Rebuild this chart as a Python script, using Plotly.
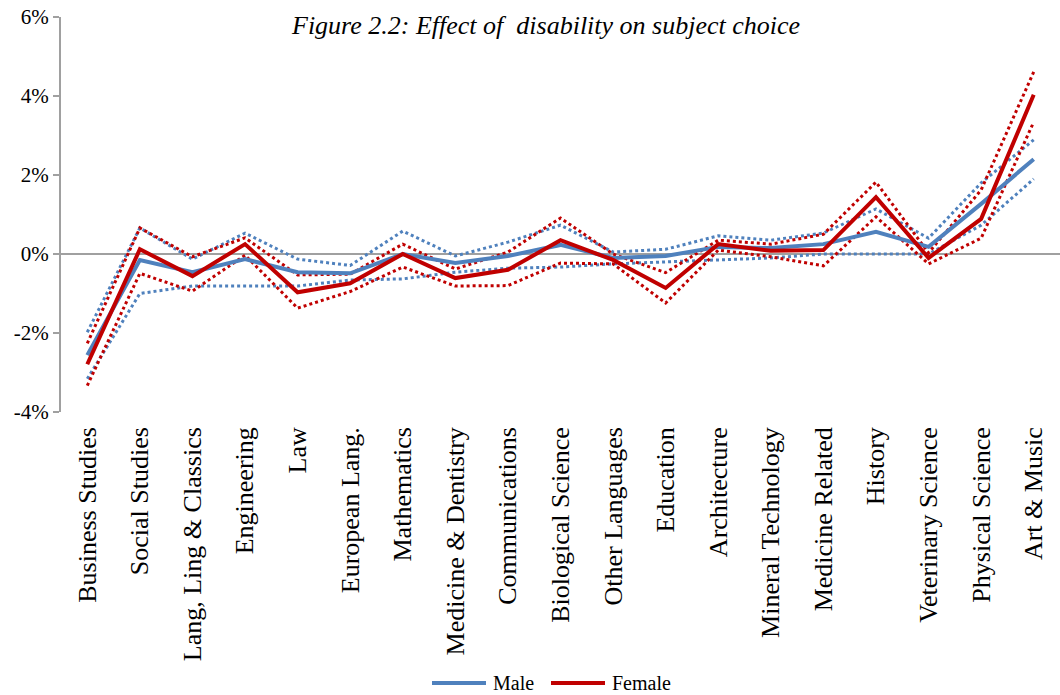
import plotly.graph_objects as go

categories = ["Business Studies", "Social Studies", "Lang, Ling & Classics", "Engineering", "Law",
              "European Lang.", "Mathematics", "Medicine & Dentistry", "Communications",
              "Biological Science", "Other Languages", "Education", "Architecture",
              "Mineral Technology", "Medicine Related", "History", "Veterinary Science",
              "Physical Science", "Art & Music"]

male = [-2.56, -0.15, -0.46, -0.13, -0.46, -0.49, 0.00, -0.23, -0.05, 0.23, -0.10, -0.05,
        0.18, 0.15, 0.25, 0.56, 0.18, 1.27, 2.40]
male_upper = [-1.98, 0.66, -0.13, 0.53, -0.13, -0.29, 0.58, -0.05, 0.30, 0.73, 0.05, 0.12,
              0.46, 0.35, 0.53, 1.14, 0.40, 1.80, 2.89]
male_lower = [-3.16, -1.00, -0.81, -0.81, -0.81, -0.66, -0.63, -0.46, -0.36, -0.33, -0.25, -0.20,
              -0.15, -0.10, 0.00, 0.00, 0.00, 0.73, 1.90]

female = [-2.79, 0.12, -0.56, 0.25, -0.97, -0.74, 0.00, -0.61, -0.40, 0.35, -0.15, -0.86,
          0.25, 0.08, 0.10, 1.44, -0.10, 0.89, 4.03]
female_upper = [-2.26, 0.66, -0.07, 0.41, -0.53, -0.51, 0.25, -0.38, 0.05, 0.91, 0.00, -0.47,
                0.35, 0.25, 0.50, 1.82, 0.03, 1.62, 4.61]
female_lower = [-3.33, -0.49, -0.94, -0.03, -1.37, -0.95, -0.33, -0.81, -0.80, -0.23, -0.25, -1.24,
                0.10, -0.07, -0.30, 0.94, -0.25, 0.40, 3.34]

y_ticks = [-4, -2, 0, 2, 4, 6]
y_tick_labels = ["-4%", "-2%", "0%", "2%", "4%", "6%"]

series_names = ["Male", "Female"]
title_text = "Figure 2.2: Effect of &nbsp;disability on subject choice"

BLUE = "#4F81BD"
RED = "#C00000"
FONT = "Liberation Serif"

# plot-area geometry in pixels (for layout-only placement of title / legend)
L, R, T, B = 61, 1060, 17, 412
def px_x(p):
    return (p - L) / (R - L)
def px_y(p):
    return (B - p) / (B - T)

fig = go.Figure()
for vals, col in [(male_upper, BLUE), (male_lower, BLUE), (female_upper, RED), (female_lower, RED)]:
    fig.add_trace(go.Scatter(x=categories, y=vals, mode="lines", showlegend=False,
                             line=dict(color=col, width=3, dash="3px,3px"), hoverinfo="skip"))
fig.add_trace(go.Scatter(x=categories, y=male, mode="lines", name=series_names[0],
                         line=dict(color=BLUE, width=4)))
fig.add_trace(go.Scatter(x=categories, y=female, mode="lines", name=series_names[1],
                         line=dict(color=RED, width=4)))

# custom legend (layout only)
shapes = []
annotations = [dict(text=title_text, x=0.4845, y=px_y(25), xref="paper", yref="paper",
                    showarrow=False, xanchor="center", yanchor="middle",
                    font=dict(family=FONT, size=26, style="italic"))]
for (x0, x1, tx), name, col in zip([(432, 486, 491), (551, 605, 610)], series_names, [BLUE, RED]):
    shapes.append(dict(type="line", xref="paper", yref="paper", x0=px_x(x0), x1=px_x(x1),
                       y0=px_y(683), y1=px_y(683), line=dict(color=col, width=4)))
    annotations.append(dict(text=name, x=px_x(tx), y=px_y(683), xref="paper", yref="paper",
                            showarrow=False, xanchor="left", yanchor="middle",
                            font=dict(family=FONT, size=20, color="#000000")))

fig.update_layout(
    width=1060, height=695,
    margin=dict(l=L, r=1060 - R, t=T, b=695 - B, autoexpand=False),
    plot_bgcolor="white", paper_bgcolor="white",
    font=dict(family=FONT, color="#000000", size=19),
    showlegend=False,
    shapes=shapes,
    annotations=annotations,
)

fig.update_xaxes(type="category", tickangle=-90, showgrid=False, showline=False, automargin=False,
                 ticks="", tickfont=dict(size=26, family=FONT), ticklabelstandoff=9,
                 range=[-0.5, len(categories) - 0.5])
fig.update_yaxes(range=[-4, 6], tickvals=y_ticks, ticktext=y_tick_labels, showgrid=False,
                 automargin=False,
                 showline=True, linecolor="#A0A0A0", linewidth=2, ticks="outside",
                 ticklen=6, tickcolor="#A0A0A0", tickwidth=2,
                 zeroline=True, zerolinecolor="#A0A0A0", zerolinewidth=2,
                 tickfont=dict(size=21, family=FONT))

fig.write_html("out.html")
